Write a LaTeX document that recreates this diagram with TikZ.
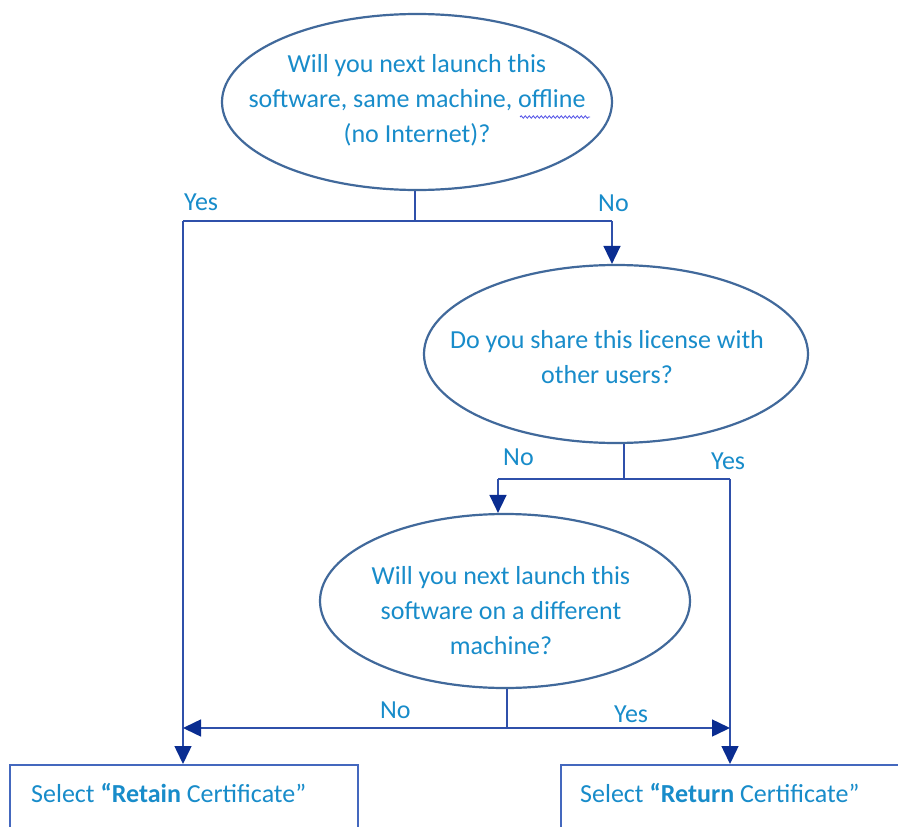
\documentclass[tikz,border=0pt]{standalone}
\usepackage{fontspec}
\setmainfont{Carlito}
\usetikzlibrary{arrows.meta,shapes.geometric,decorations.pathmorphing}
\definecolor{txtblue}{RGB}{24,140,202}
\definecolor{ellblue}{RGB}{65,105,155}
\definecolor{lineblue}{RGB}{47,80,170}
\definecolor{arrowblue}{RGB}{10,45,145}
\definecolor{boxblue}{RGB}{68,104,190}
\definecolor{squig}{RGB}{80,80,230}
\begin{document}
\begin{tikzpicture}[x=1pt,y=-1pt,
  txt/.style={text=txtblue,font=\fontsize{26}{35}\selectfont,inner sep=0pt,align=center},
  lbl/.style={text=txtblue,font=\fontsize{26}{31}\selectfont,inner sep=0pt,anchor=base west},
  question/.style={draw=ellblue,line width=2.2pt,ellipse,inner sep=0pt},
  answer/.style={draw=boxblue,line width=1.5pt,rectangle,inner sep=0pt,anchor=north west},
  conn/.style={draw=lineblue,line width=1.5pt},
  arr/.style={conn,-{Triangle[width=17pt,length=18pt,color=arrowblue]}}
]
\clip (0,0) rectangle (898,827);
\fill[white] (0,0) rectangle (898,827);

% questions
\node[question,minimum width=390pt,minimum height=176pt] (e1) at (417,102) {};
\node[txt] (t1) at (417,100) {Will you next launch this\\software, same machine, offline\\(no Internet)?};
\node[question,minimum width=384pt,minimum height=178pt] (e2) at (616,354) {};
\node[txt] (t2) at (607,357) {Do you share this license with\\other users?};
\node[question,minimum width=370pt,minimum height=174pt] (e3) at (505,601) {};
\node[txt] (t3) at (501,611) {Will you next launch this\\software on a different\\machine?};

% answers
\node[answer,minimum width=348pt,minimum height=140pt] (b1) at (9,764) {};
\node[answer,minimum width=360pt,minimum height=140pt] (b2) at (560,764) {};
\node[lbl] (a1) at (31,802) {Select \textbf{“Retain} Certificate”};
\node[lbl] (a2) at (580,802) {Select \textbf{“Return} Certificate”};

% junction coordinates
\coordinate (j1) at (415,221);
\coordinate (l1) at (183,221);
\coordinate (r1) at (612,221);
\coordinate (j2) at (624,479);
\coordinate (l2) at (498,479);
\coordinate (r2) at (730,479);
\coordinate (j3) at (507,728);

% connectors
\draw[conn] (e1.south -| j1) -- (j1);
\draw[conn] (l1) -- (r1);
\draw[arr] (r1) -- (r1 |- e2.north);
\draw[arr] (l1) -- (l1 |- b1.north);

\draw[conn] (e2.south -| j2) -- (j2);
\draw[conn] (l2) -- (r2);
\draw[arr] (l2) -- (l2 |- e3.north);
\draw[arr] (r2) -- (r2 |- b2.north);

\draw[conn] (e3.south -| j3) -- (j3);
\draw[arr] (j3) -- (l1 |- j3);
\draw[arr] (j3) -- (r2 |- j3);

% branch labels
\node[lbl] (y1) at (184,210) {Yes};
\node[lbl] (n1) at (598,211) {No};
\node[lbl] (n2) at (503,465) {No};
\node[lbl] (y2) at (711,469) {Yes};
\node[lbl] (n3) at (380,718) {No};
\node[lbl] (y3) at (614,722) {Yes};

% spell-check squiggle
\draw[squig,line width=0.8pt,decorate,decoration={snake,amplitude=1.2pt,segment length=4pt}] (520,117) -- (590,117);
\end{tikzpicture}
\end{document}
